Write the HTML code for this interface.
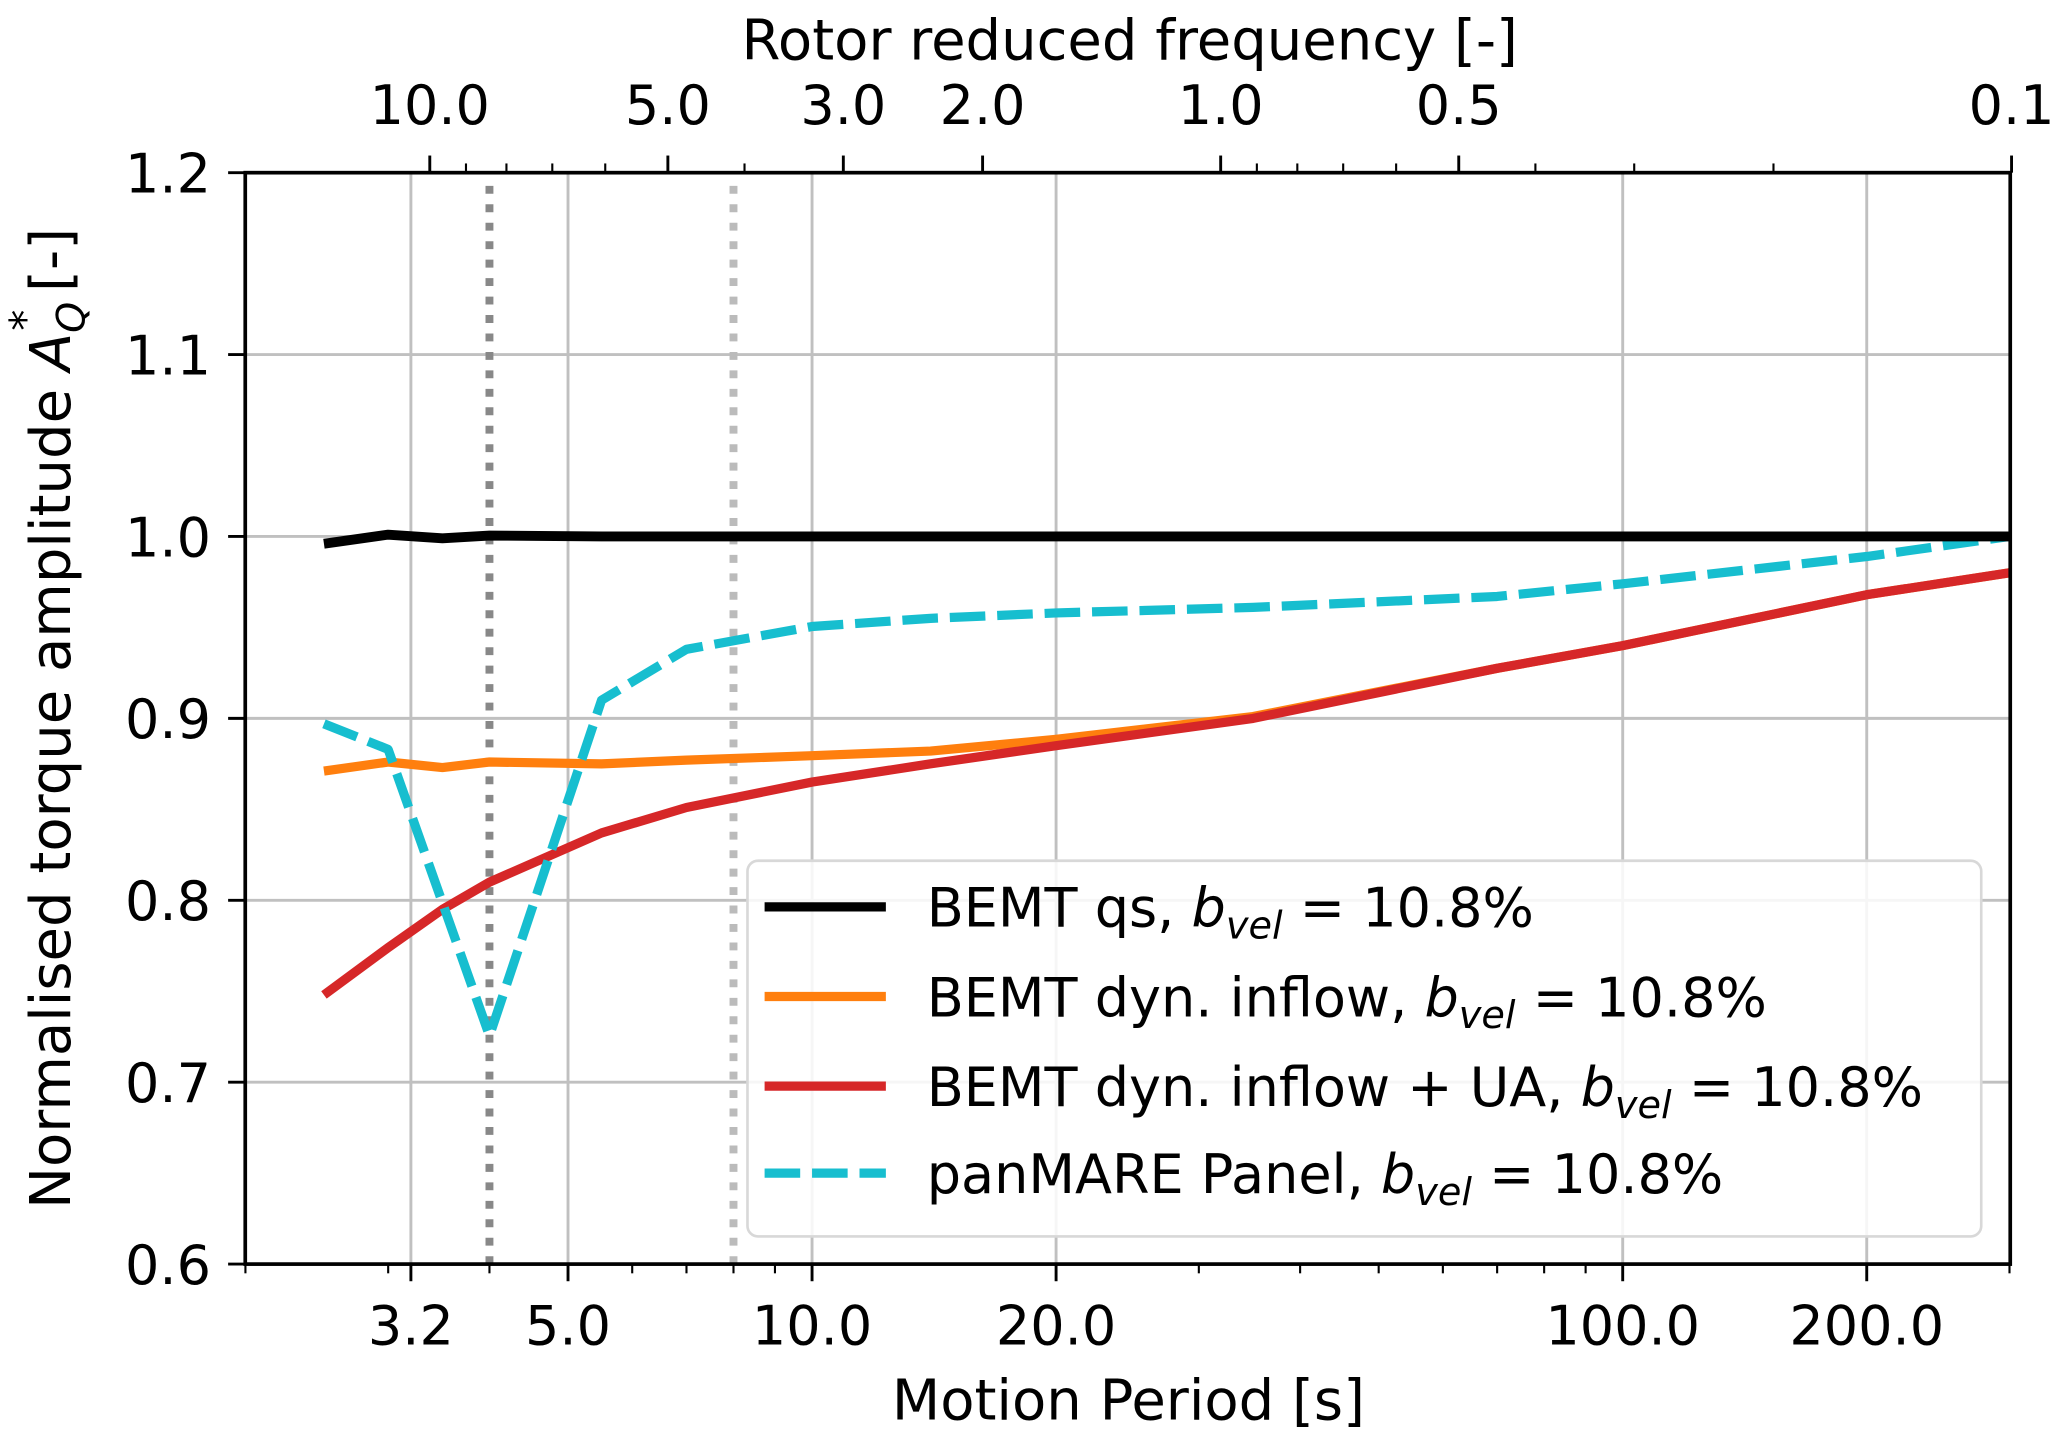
<!DOCTYPE html>
<html><head><meta charset="utf-8"><style>
html,body{margin:0;padding:0;background:#fff;}
svg{display:block;font-family:"DejaVu Sans","Liberation Sans",sans-serif;}
</style></head><body>
<svg id="chart" width="2067" height="1446" viewBox="0 0 1568 1097" xmlns="http://www.w3.org/2000/svg"></svg>
<script>
const periods = [2.5, 3, 3.5, 4, 5.5, 7, 10, 14, 20, 35, 70, 100, 200, 300];
const bemtQs = [0.996, 1.001, 0.999, 1.0005, 1.0, 1.0, 1.0, 1.0, 1.0, 1.0, 1.0, 1.0, 1.0, 1.0];
const bemtDyn = [0.871, 0.876, 0.873, 0.876, 0.875, 0.877, 0.8795, 0.882, 0.8885, 0.901, 0.9275, 0.940, 0.968, 0.980];
const bemtDynUa = [0.748, 0.774, 0.795, 0.810, 0.837, 0.851, 0.865, 0.875, 0.885, 0.900, 0.9275, 0.940, 0.968, 0.980];
const panPeriods = [2.5, 3, 4, 5.5, 7, 10, 14, 20, 35, 70, 100, 200, 300];
const panMare = [0.897, 0.883, 0.7255, 0.910, 0.938, 0.9505, 0.955, 0.958, 0.961, 0.967, 0.974, 0.989, 1.0];
const xMajorTicks = [3.2, 5, 10, 20, 100, 200];
const xMajorLabels = ["3.2", "5.0", "10.0", "20.0", "100.0", "200.0"];
const xMinorTicks = [2, 3, 4, 6, 7, 8, 9, 30, 40, 50, 60, 70, 80, 90, 300];
const yTicks = [0.6, 0.7, 0.8, 0.9, 1.0, 1.1, 1.2];
const yLabels = ["0.6", "0.7", "0.8", "0.9", "1.0", "1.1", "1.2"];
const fMajorTicks = [10, 5, 3, 2, 1, 0.5, 0.1];
const fMajorLabels = ["10.0", "5.0", "3.0", "2.0", "1.0", "0.5", "0.1"];
const fMinorTicks = [9, 8, 7, 6, 4, 0.9, 0.8, 0.7, 0.6, 0.4, 0.3, 0.2];
const markerPeriods = [4, 8];

const L = 186, R = 1525, T = 131, B = 959;
const xs = t => 616 + 615 * Math.log10(t / 10);
const ys = v => B - (v - 0.6) / 0.6 * (B - T);
const fx = f => 926 - 600 * Math.log10(f);
const NS = "http://www.w3.org/2000/svg";
const svg = document.getElementById("chart");
function mk(tag, attrs, parent) {
  const e = document.createElementNS(NS, tag);
  for (const k in attrs) e.setAttribute(k, attrs[k]);
  (parent || svg).appendChild(e);
  return e;
}
const grid = mk("g", {});


xMajorTicks.forEach(t => mk("line", {x1: xs(t), x2: xs(t), y1: T, y2: B, stroke: "#c0c0c0", "stroke-width": 2.2}, grid));
yTicks.forEach(v => mk("line", {x1: L, x2: R, y1: ys(v), y2: ys(v), stroke: "#c0c0c0", "stroke-width": 2.2}, grid));
const mcol = ["#888888", "#bbbbbb"];
markerPeriods.forEach((p, i) => {
  const l = mk("line", {x1: xs(p), x2: xs(p), y1: T + 10, y2: B, stroke: mcol[i], "stroke-width": 6, "stroke-dasharray": "6 8"});
  
  
});
function series(xarr, yarr, color, name, dash, w) {
  const d = xarr.map((t, i) => (i ? "L" : "M") + xs(t).toFixed(1) + "," + ys(yarr[i]).toFixed(1)).join(" ");
  const a = {d: d, fill: "none", stroke: color, "stroke-width": w, "stroke-linejoin": "round"};
  if (dash) a["stroke-dasharray"] = dash;
  const p = mk("path", a);
  
  
}
series(periods, bemtDyn, "#ff7f0e", "bemt-dyn-inflow-line", null, 7);
series(periods, bemtDynUa, "#d62728", "bemt-dyn-inflow-ua-line", null, 7);
series(panPeriods, panMare, "#17becf", "panmare-panel-line", "27 9", 7);
series(periods, bemtQs, "#000000", "bemt-qs-line", null, 7.5);
const sp = mk("rect", {x: L, y: T, width: R - L, height: B - T, fill: "none", stroke: "#000", "stroke-width": 2.8});


xMajorTicks.forEach((t, i) => {
  mk("line", {x1: xs(t), x2: xs(t), y1: B, y2: B + 13, stroke: "#000", "stroke-width": 2.2});
  const tx = mk("text", {x: xs(t), y: 1020, "font-size": 41, "text-anchor": "middle"});
  tx.textContent = xMajorLabels[i];
  
  
});
xMinorTicks.forEach(t => mk("line", {x1: xs(t), x2: xs(t), y1: B, y2: B + 7, stroke: "#000", "stroke-width": 1.6}));
yTicks.forEach((v, i) => {
  mk("line", {x1: L - 13, x2: L, y1: ys(v), y2: ys(v), stroke: "#000", "stroke-width": 2.2});
  const tx = mk("text", {x: 160, y: ys(v) + 15, "font-size": 41, "text-anchor": "end"});
  tx.textContent = yLabels[i];
  
  
});
fMajorTicks.forEach((f, i) => {
  mk("line", {x1: fx(f), x2: fx(f), y1: T - 13, y2: T, stroke: "#000", "stroke-width": 2.2});
  const tx = mk("text", {x: fx(f), y: 94, "font-size": 41, "text-anchor": "middle"});
  tx.textContent = fMajorLabels[i];
  
  
});
fMinorTicks.forEach(f => mk("line", {x1: fx(f), x2: fx(f), y1: T - 7, y2: T, stroke: "#000", "stroke-width": 1.6}));
</script>
<svg style="position:absolute;left:0;top:0" width="2067" height="1446" viewBox="0 0 1568 1097" xmlns="http://www.w3.org/2000/svg" font-family="DejaVu Sans, Liberation Sans, sans-serif">
  <text x="857" y="45" font-size="42.5" text-anchor="middle">Rotor reduced frequency [-]</text>
  <text x="856" y="1077" font-size="42.5" text-anchor="middle">Motion Period [s]</text>
  <text transform="translate(53,545) rotate(-90)" font-size="42.5" text-anchor="middle">Normalised torque amplitude <tspan font-style="italic">A</tspan><tspan font-style="italic" font-size="30" dy="11">Q</tspan><tspan font-size="32" dx="-22" dy="-34">*</tspan><tspan dy="23"> [-]</tspan></text>
  <g>
    <rect x="567" y="653" width="936" height="285" rx="8" fill="#ffffff" fill-opacity="0.85" stroke="#d8d8d8" stroke-width="2"/>
    <line x1="580" x2="672" y1="688" y2="688" stroke="#000" stroke-width="7"/>
    <text x="703" y="703" font-size="41">BEMT qs, <tspan font-style="italic">b</tspan><tspan font-style="italic" font-size="29" dy="9">vel</tspan><tspan dy="-9"> = 10.8%</tspan></text>
    <line x1="580" x2="672" y1="756" y2="756" stroke="#ff7f0e" stroke-width="7"/>
    <text x="703" y="771" font-size="41">BEMT dyn. inflow, <tspan font-style="italic">b</tspan><tspan font-style="italic" font-size="29" dy="9">vel</tspan><tspan dy="-9"> = 10.8%</tspan></text>
    <line x1="580" x2="672" y1="824" y2="824" stroke="#d62728" stroke-width="7"/>
    <text x="703" y="839" font-size="41">BEMT dyn. inflow + UA, <tspan font-style="italic">b</tspan><tspan font-style="italic" font-size="29" dy="9">vel</tspan><tspan dy="-9"> = 10.8%</tspan></text>
    <line x1="580" x2="672" y1="890" y2="890" stroke="#17becf" stroke-width="7" stroke-dasharray="27 9"/>
    <text x="703" y="905" font-size="41">panMARE Panel, <tspan font-style="italic">b</tspan><tspan font-style="italic" font-size="29" dy="9">vel</tspan><tspan dy="-9"> = 10.8%</tspan></text>
  </g>
</svg>
</body></html>
